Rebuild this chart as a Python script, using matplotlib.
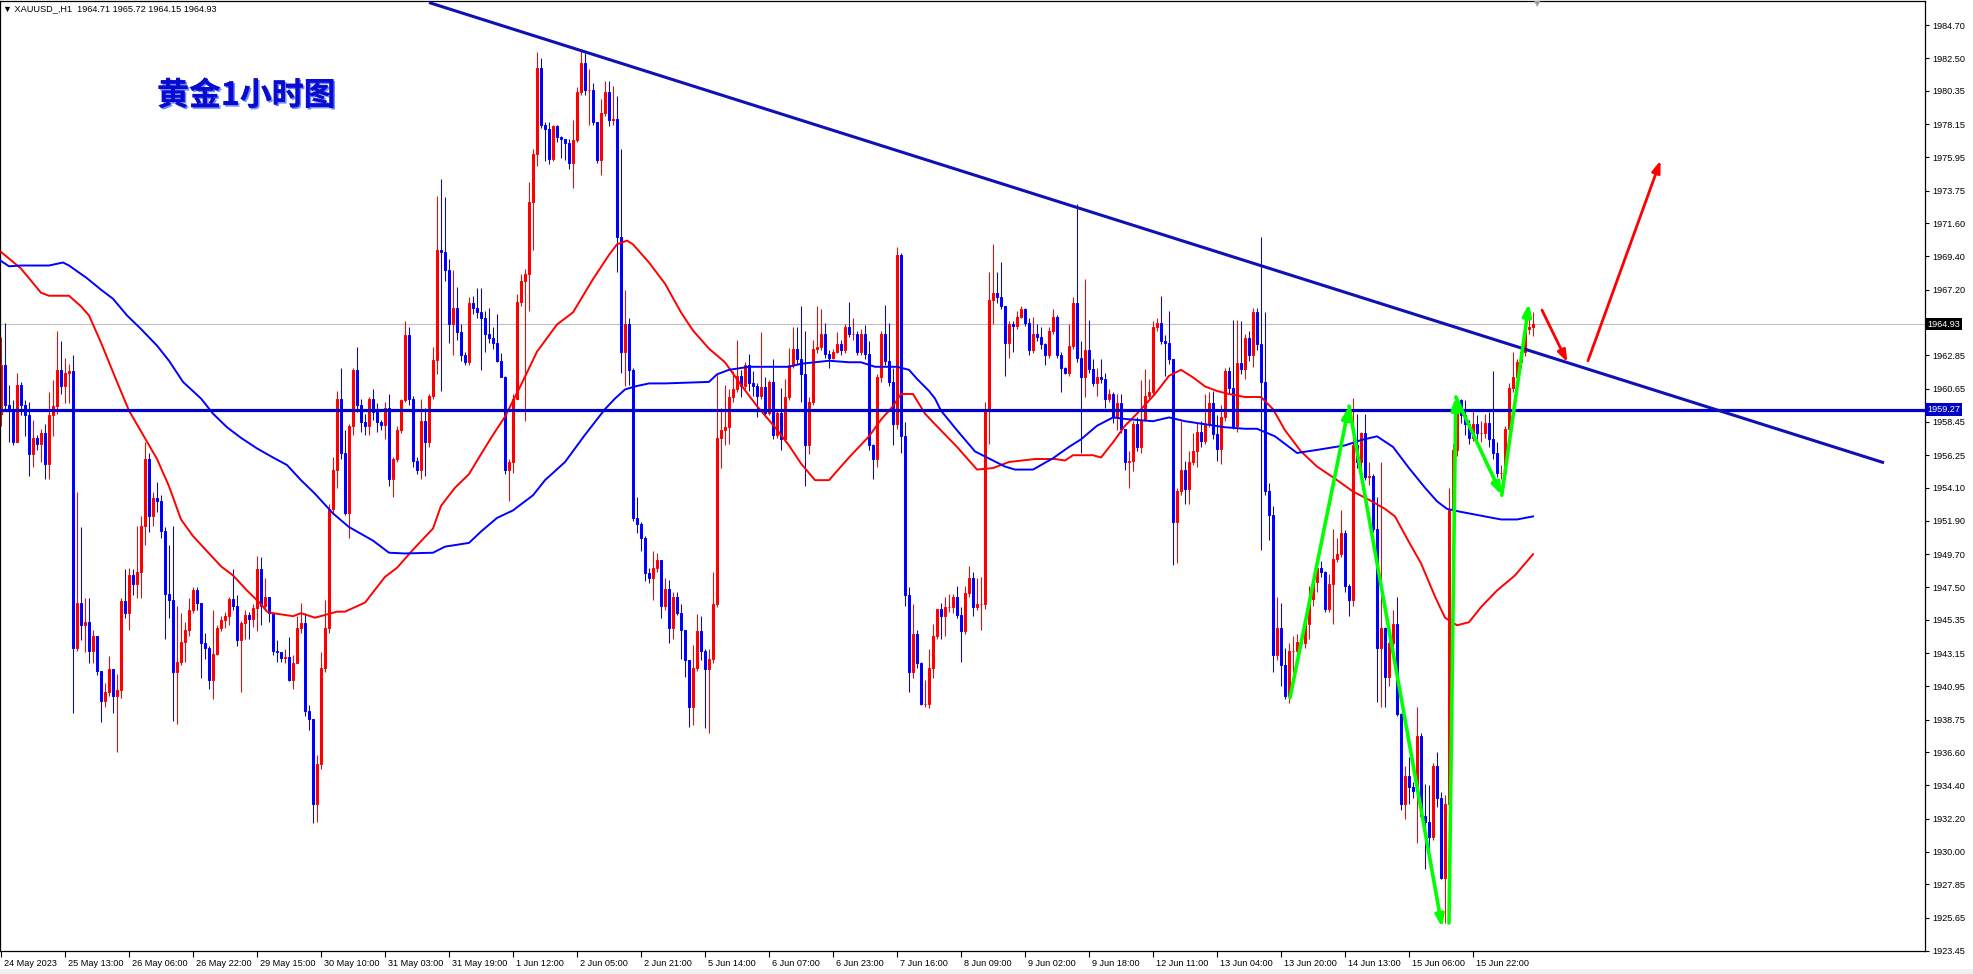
import numpy as np
import matplotlib
matplotlib.use("Agg")
import matplotlib.pyplot as plt
import matplotlib.transforms as mtransforms
import matplotlib.patheffects as pe
from matplotlib.patches import Rectangle

# ---- data (XAUUSD H1) ----
first_open = 1959.0
closes = [
    1962.2, 1959.6, 1959.2, 1957.1, 1960.9, 1959.6, 1958.9, 1956.3, 1957.4, 1957.0, 1957.7, 1955.7,
    1958.9, 1959.5, 1961.9, 1960.8, 1961.7, 1961.8, 1943.5, 1946.5, 1945.0, 1945.2, 1943.3, 1944.3,
    1942.0, 1940.0, 1940.6, 1942.1, 1940.3, 1940.7, 1946.6, 1945.8, 1948.3, 1947.7, 1948.5, 1951.6,
    1956.0, 1952.2, 1953.4, 1953.2, 1951.25, 1947.1, 1946.7, 1941.9, 1942.6, 1943.9, 1944.7, 1946.0,
    1947.3, 1946.5, 1943.8, 1943.5, 1941.4, 1943.1, 1944.85, 1945.35, 1945.6, 1946.75, 1946.3, 1944.0,
    1945.15, 1945.7, 1945.4, 1946.15, 1948.7, 1946.3, 1946.85, 1945.8, 1943.3, 1943.2, 1942.85, 1942.9,
    1941.4, 1942.5, 1944.85, 1945.15, 1939.3, 1938.8, 1933.2, 1935.8, 1942.2, 1944.8, 1952.7, 1955.3,
    1960.0, 1956.4, 1952.4, 1958.2, 1961.9, 1959.6, 1958.45, 1958.2, 1960.0, 1959.1, 1958.45, 1958.27,
    1959.4, 1954.65, 1956.0, 1957.9, 1959.9, 1964.2, 1960.0, 1955.9, 1955.3, 1958.5, 1957.1, 1960.2,
    1962.55, 1969.8, 1969.7, 1968.5, 1964.9, 1966.0, 1964.4, 1962.9, 1962.4, 1966.3, 1966.0, 1965.75,
    1965.35, 1964.3, 1964.0, 1963.7, 1962.5, 1961.4, 1955.3, 1955.8, 1960.0, 1966.4, 1967.8, 1968.25,
    1973.0, 1976.2, 1981.9, 1978.1, 1977.8, 1975.85, 1978.0, 1977.3, 1977.2, 1976.9, 1975.55, 1977.1,
    1980.3, 1982.2, 1980.4, 1980.4, 1978.3, 1975.8, 1978.9, 1980.3, 1978.4, 1978.5, 1970.7, 1963.1,
    1964.9, 1961.9, 1952.1, 1951.7, 1950.8, 1948.45, 1948.1, 1948.8, 1949.3, 1946.3, 1947.4, 1944.8,
    1946.9, 1945.8, 1944.7, 1942.7, 1939.6, 1942.2, 1944.6, 1943.3, 1942.1, 1942.8, 1946.4, 1957.4,
    1957.9, 1958.1, 1960.1, 1960.6, 1961.5, 1960.8, 1962.2, 1961.0, 1960.8, 1960.2, 1960.75, 1959.05,
    1961.1, 1957.6, 1959.05, 1957.3, 1960.1, 1962.2, 1963.3, 1962.6, 1961.65, 1956.9, 1959.8, 1963.3,
    1963.4, 1964.3, 1962.95, 1962.7, 1963.1, 1963.6, 1963.2, 1964.7, 1964.3, 1964.3, 1963.1, 1964.3,
    1962.95, 1956.9, 1956.0, 1961.4, 1964.3, 1962.5, 1961.1, 1958.3, 1969.5, 1957.5, 1947.0, 1941.9,
    1944.4, 1942.5, 1939.8, 1939.8, 1942.2, 1944.3, 1946.05, 1945.6, 1946.2, 1946.2, 1946.9, 1945.7,
    1944.6, 1947.15, 1948.1, 1946.2, 1946.4, 1946.4, 1959.2, 1966.55, 1967.0, 1966.7, 1966.1, 1963.65,
    1964.9, 1964.8, 1965.4, 1965.9, 1965.0, 1963.2, 1964.3, 1964.05, 1963.6, 1962.9, 1964.5, 1965.4,
    1962.9, 1962.0, 1961.7, 1963.5, 1966.3, 1962.7, 1961.4, 1963.2, 1961.95, 1961.0, 1961.4, 1961.3,
    1960.0, 1960.3, 1958.75, 1959.7, 1958.0, 1955.8, 1955.9, 1958.3, 1956.8, 1958.6, 1960.2, 1960.4,
    1964.7, 1965.0, 1963.8, 1963.7, 1962.6, 1951.85, 1953.9, 1955.3, 1954.0, 1955.8, 1956.5, 1957.8,
    1957.2, 1958.3, 1959.7, 1957.65, 1956.65, 1958.75, 1961.8, 1960.7, 1958.2, 1962.35, 1961.95, 1964.0,
    1962.9, 1965.7, 1963.6, 1961.1, 1953.85, 1952.3, 1943.0, 1944.8, 1942.4, 1940.3, 1943.3, 1943.3,
    1943.9, 1943.8, 1945.1, 1946.75, 1947.85, 1948.8, 1948.55, 1946.05, 1947.7, 1949.4, 1949.7, 1951.1,
    1947.6, 1946.7, 1956.9, 1955.8, 1957.7, 1954.8, 1954.9, 1951.35, 1943.5, 1944.8, 1941.6, 1943.8,
    1945.1, 1939.1, 1933.2, 1935.0, 1934.3, 1934.05, 1937.7, 1932.4, 1932.0, 1931.0, 1935.7, 1933.6,
    1928.3, 1933.2, 1952.6, 1956.6, 1959.9, 1958.9, 1958.3, 1957.4, 1958.3, 1957.7, 1957.7, 1958.4,
    1957.3, 1956.4, 1955.1, 1955.1, 1958.0, 1960.7, 1961.4, 1962.4, 1963.1, 1964.6, 1964.71, 1964.93,
]
highs = [
    1964.1, 1965.0, 1960.9, 1959.9, 1961.7, 1961.1, 1959.9, 1959.8, 1958.6, 1957.6, 1958.0, 1958.3,
    1960.4, 1961.2, 1964.5, 1963.8, 1962.7, 1962.3, 1962.9, 1953.8, 1951.5, 1946.8, 1946.8, 1944.7,
    1944.3, 1942.0, 1941.2, 1942.95, 1942.1, 1941.8, 1946.8, 1948.7, 1948.8, 1948.7, 1951.6, 1952.2,
    1957.1, 1956.4, 1953.8, 1954.5, 1953.6, 1951.5, 1950.3, 1951.6, 1946.3, 1945.8, 1945.2, 1946.8,
    1947.5, 1947.5, 1946.1, 1944.5, 1943.6, 1946.0, 1945.0, 1945.6, 1945.9, 1946.9, 1948.7, 1947.0,
    1945.3, 1946.0, 1945.9, 1946.4, 1949.6, 1949.5, 1948.1, 1946.9, 1945.9, 1944.0, 1943.2, 1943.4,
    1944.2, 1943.0, 1945.6, 1946.5, 1945.8, 1939.7, 1938.8, 1936.4, 1943.2, 1946.7, 1953.0, 1956.1,
    1960.5, 1962.0, 1957.9, 1958.3, 1962.0, 1963.4, 1960.0, 1959.0, 1960.1, 1960.6, 1959.7, 1958.6,
    1959.8, 1960.3, 1956.1, 1958.2, 1960.0, 1965.1, 1964.7, 1960.2, 1956.1, 1960.0, 1959.4, 1960.3,
    1963.4, 1973.4, 1974.5, 1973.3, 1969.2, 1968.5, 1967.4, 1964.9, 1963.1, 1966.7, 1966.8, 1967.3,
    1967.3, 1965.8, 1966.0, 1964.7, 1965.6, 1963.0, 1961.5, 1956.0, 1960.3, 1966.9, 1968.25, 1968.55,
    1974.3, 1976.5, 1982.9, 1982.5, 1978.3, 1978.3, 1978.1, 1978.1, 1977.4, 1977.2, 1977.2, 1978.4,
    1980.6, 1983.15, 1982.85, 1981.8, 1980.9, 1978.3, 1979.8, 1981.0, 1981.0, 1980.7, 1980.0, 1976.5,
    1967.2, 1965.3, 1962.0, 1953.5, 1951.8, 1950.9, 1948.8, 1949.9, 1949.75, 1949.3, 1948.1, 1948.0,
    1947.2, 1947.2, 1946.4, 1944.7, 1942.7, 1943.7, 1945.75, 1945.6, 1943.4, 1943.4, 1948.5, 1961.65,
    1959.4, 1960.9, 1960.6, 1961.8, 1963.85, 1961.9, 1962.4, 1962.95, 1961.8, 1961.0, 1964.4, 1961.4,
    1961.2, 1962.6, 1959.2, 1960.7, 1961.3, 1963.35, 1964.7, 1964.7, 1966.1, 1964.5, 1960.1, 1963.9,
    1966.15, 1965.9, 1965.0, 1963.2, 1963.3, 1964.4, 1963.9, 1964.9, 1966.4, 1965.3, 1964.5, 1964.6,
    1964.85, 1963.8, 1957.0, 1961.6, 1964.5, 1966.2, 1965.0, 1962.0, 1970.0, 1969.6, 1958.45, 1947.5,
    1946.4, 1944.7, 1942.6, 1941.4, 1943.4, 1945.1, 1946.1, 1946.5, 1946.85, 1947.1, 1947.1, 1947.6,
    1946.2, 1947.6, 1948.9, 1948.5, 1948.1, 1948.2, 1959.75, 1968.35, 1970.2, 1968.35, 1969.06, 1966.0,
    1965.1, 1965.1, 1965.8, 1966.1, 1966.0, 1965.3, 1965.4, 1964.9, 1964.7, 1963.7, 1964.7, 1965.9,
    1965.5, 1963.1, 1962.1, 1964.9, 1966.74, 1972.9, 1963.8, 1967.9, 1965.2, 1962.6, 1962.0, 1962.6,
    1961.7, 1960.6, 1960.4, 1960.3, 1960.3, 1958.0, 1956.5, 1958.5, 1958.8, 1961.2, 1961.95, 1961.3,
    1965.15, 1965.3, 1966.8, 1964.2, 1965.8, 1962.6, 1954.1, 1958.5, 1955.9, 1956.5, 1957.75, 1958.4,
    1958.5, 1960.3, 1960.4, 1960.5, 1958.9, 1959.6, 1962.0, 1962.1, 1965.2, 1965.2, 1965.15, 1964.3,
    1964.45, 1966.0, 1966.0, 1970.7, 1965.7, 1954.4, 1952.9, 1946.9, 1946.5, 1943.5, 1943.8, 1944.3,
    1944.4, 1944.4, 1945.5, 1947.6, 1948.2, 1949.1, 1949.25, 1948.6, 1948.4, 1951.35, 1950.8, 1952.6,
    1951.3, 1947.7, 1960.05, 1959.0, 1957.8, 1959.0, 1955.8, 1955.0, 1953.5, 1955.8, 1944.9, 1944.2,
    1946.0, 1946.9, 1939.2, 1935.7, 1936.3, 1934.6, 1939.6, 1937.9, 1934.5, 1934.4, 1935.9, 1936.6,
    1934.0, 1933.8, 1954.1, 1957.0, 1960.1, 1960.0, 1959.9, 1958.6, 1959.2, 1958.9, 1958.5, 1959.0,
    1959.1, 1961.8, 1957.1, 1955.6, 1958.2, 1961.0, 1963.1, 1962.6, 1963.3, 1964.8, 1965.6, 1965.72,
]
lows = [
    1958.2, 1959.2, 1957.1, 1956.9, 1957.2, 1958.9, 1957.5, 1954.9, 1955.5, 1956.6, 1955.8, 1954.7,
    1954.7, 1957.5, 1959.0, 1960.3, 1959.7, 1959.7, 1939.2, 1943.3, 1944.0, 1943.2, 1942.5, 1942.5,
    1941.7, 1938.6, 1939.6, 1940.3, 1939.2, 1936.6, 1940.2, 1945.5, 1944.7, 1947.0, 1946.8, 1946.8,
    1950.3, 1951.2, 1951.6, 1952.5, 1950.8, 1944.1, 1945.5, 1938.65, 1938.5, 1942.4, 1942.6, 1944.3,
    1945.8, 1946.0, 1941.5, 1942.8, 1940.8, 1940.1, 1943.0, 1944.6, 1944.8, 1945.0, 1946.0, 1943.6,
    1940.6, 1944.1, 1944.1, 1944.9, 1944.6, 1945.0, 1946.0, 1945.2, 1943.0, 1942.6, 1942.6, 1942.5,
    1941.3, 1940.8, 1942.5, 1944.5, 1939.0, 1938.1, 1931.9, 1932.0, 1935.5, 1941.9, 1944.5, 1952.4,
    1954.1, 1956.0, 1952.3, 1950.8, 1957.6, 1959.1, 1957.8, 1957.6, 1957.6, 1958.6, 1957.8, 1957.9,
    1957.3, 1954.2, 1953.5, 1955.8, 1957.7, 1959.8, 1959.6, 1955.5, 1955.0, 1954.7, 1954.9, 1956.8,
    1960.0, 1961.6, 1960.5, 1967.8, 1963.7, 1962.9, 1963.9, 1962.5, 1962.2, 1962.2, 1965.6, 1965.3,
    1961.9, 1963.1, 1963.7, 1963.3, 1962.4, 1961.4, 1955.0, 1953.2, 1955.1, 1960.0, 1966.1, 1958.5,
    1965.8, 1969.8, 1975.4, 1977.9, 1975.7, 1975.5, 1975.7, 1977.0, 1975.9, 1975.8, 1975.2, 1973.9,
    1977.0, 1980.1, 1980.1, 1978.1, 1978.1, 1975.55, 1974.8, 1978.7, 1978.0, 1978.1, 1968.4, 1961.7,
    1960.8, 1960.9, 1951.9, 1951.1, 1949.9, 1947.9, 1947.8, 1946.7, 1948.5, 1945.5, 1946.0, 1943.8,
    1944.1, 1945.7, 1942.8, 1941.6, 1938.3, 1938.4, 1942.0, 1942.7, 1938.2, 1937.9, 1942.5, 1946.2,
    1955.4, 1956.9, 1957.0, 1959.8, 1960.4, 1960.1, 1960.6, 1960.5, 1960.2, 1958.8, 1960.0, 1958.8,
    1958.9, 1957.3, 1957.4, 1956.6, 1957.1, 1959.9, 1962.0, 1962.3, 1959.8, 1954.2, 1956.3, 1959.6,
    1963.0, 1963.2, 1962.7, 1962.0, 1962.6, 1963.0, 1962.9, 1963.0, 1964.1, 1963.9, 1962.9, 1962.9,
    1962.6, 1956.6, 1954.7, 1955.5, 1961.1, 1962.2, 1960.8, 1956.9, 1958.0, 1956.4, 1946.3, 1940.6,
    1941.5, 1942.2, 1939.7, 1939.6, 1939.5, 1941.5, 1944.1, 1944.1, 1944.3, 1945.9, 1945.8, 1945.5,
    1942.6, 1944.4, 1946.9, 1945.6, 1946.0, 1944.7, 1946.1, 1957.0, 1964.9, 1966.3, 1965.9, 1961.5,
    1962.7, 1963.1, 1964.6, 1965.3, 1964.8, 1962.9, 1963.0, 1963.8, 1963.3, 1962.2, 1962.7, 1964.3,
    1962.7, 1960.4, 1961.6, 1961.5, 1963.3, 1962.4, 1956.4, 1960.1, 1961.7, 1960.8, 1960.2, 1961.0,
    1959.4, 1959.8, 1958.4, 1957.9, 1957.7, 1955.3, 1954.1, 1955.2, 1956.5, 1956.4, 1958.5, 1960.0,
    1960.2, 1964.5, 1963.6, 1961.5, 1962.3, 1949.0, 1949.1, 1953.6, 1953.0, 1953.0, 1955.6, 1955.5,
    1956.8, 1957.0, 1958.1, 1957.3, 1955.9, 1955.7, 1958.5, 1960.3, 1958.0, 1957.8, 1961.6, 1961.3,
    1962.5, 1962.1, 1963.2, 1950.0, 1953.6, 1950.65, 1941.9, 1942.7, 1941.0, 1940.1, 1939.85, 1941.9,
    1942.6, 1943.5, 1943.5, 1944.1, 1946.3, 1947.2, 1948.2, 1945.9, 1945.9, 1945.1, 1949.2, 1949.5,
    1947.2, 1945.6, 1946.3, 1955.4, 1954.8, 1954.6, 1954.3, 1951.2, 1939.9, 1939.6, 1939.6, 1941.0,
    1943.6, 1939.0, 1932.8, 1932.2, 1933.2, 1933.6, 1930.6, 1932.3, 1928.9, 1929.9, 1930.8, 1933.0,
    1928.2, 1925.3, 1932.9, 1952.0, 1956.2, 1958.4, 1957.6, 1957.0, 1957.2, 1957.3, 1957.1, 1957.4,
    1956.8, 1956.0, 1954.8, 1954.7, 1954.7, 1957.6, 1960.4, 1961.0, 1962.0, 1962.8, 1964.3, 1964.15,
]

# moving averages (bar index, price)
ma_red_bars = [0, 5, 10, 12, 17, 20, 22, 25, 29, 32, 35.5, 39, 42, 45, 48, 51.5, 55, 58, 61.5, 65,
               66.5, 68, 73, 75, 78.5, 84, 86, 91, 96, 99, 103, 108, 110, 113.5, 117, 119.5, 123,
               126, 130, 134, 139, 143, 148, 152, 154, 156.5, 158, 162, 166, 170, 173, 177, 181,
               185, 189, 193.5, 197, 200, 203.5, 207, 212, 217, 220, 223, 225, 228, 231, 233.5,
               239, 244, 248, 252, 258.5, 263.5, 266, 268, 273, 275, 278, 281, 284, 288.5, 292,
               295, 298, 301, 304, 307, 311, 315, 318, 321, 325, 329, 333.5, 338, 342, 346,
               348.5, 352, 355, 358.5, 361, 364, 367, 370, 374, 378.5, 383]
ma_red = [1969.7, 1968.6, 1967.0, 1966.8, 1966.8, 1966.1, 1965.5, 1963.7, 1961.1, 1959.2, 1957.6,
          1956.0, 1954.2, 1952.0, 1950.9, 1949.9, 1948.9, 1948.3, 1947.3, 1946.4, 1945.9, 1945.8,
          1945.6, 1945.8, 1945.5, 1945.9, 1945.9, 1946.5, 1948.2, 1948.8, 1950.0, 1951.4, 1952.9,
          1954.1, 1955.0, 1956.1, 1957.6, 1958.8, 1960.9, 1963.1, 1964.9, 1965.7, 1967.9, 1969.5,
          1970.2, 1970.45, 1970.2, 1969.0, 1967.6, 1965.7, 1964.5, 1963.3, 1962.4, 1960.9, 1959.5,
          1958.1, 1956.9, 1955.7, 1954.6, 1954.6, 1956.1, 1957.5, 1958.6, 1959.5, 1960.3, 1960.3,
          1959.0, 1958.3, 1956.8, 1955.3, 1955.4, 1955.8, 1956.0, 1956.0, 1955.9, 1956.25, 1956.25,
          1956.1, 1957.1, 1958.2, 1959.0, 1960.3, 1961.5, 1961.9, 1961.4, 1960.8, 1960.5, 1960.3,
          1960.1, 1960.1, 1959.3, 1957.9, 1956.5, 1955.5, 1954.7, 1953.85, 1953.3, 1952.7, 1952.2,
          1950.5, 1949.1, 1946.9, 1945.5, 1945.0, 1945.2, 1946.2, 1947.3, 1948.3, 1949.7]
ma_blue_bars = [0, 2, 5, 12, 15.5, 17, 21.5, 25, 28, 31.5, 35, 39, 42, 45.5, 50, 53, 56.5, 60, 64,
                68, 71.5, 75, 78.5, 83, 87, 93, 97, 101, 108, 111, 117, 120, 124, 128, 133, 136,
                141, 146, 151, 153.5, 156, 158.5, 162, 166, 177, 179, 182, 187, 197, 200, 203.5,
                207, 212, 215, 218.5, 224, 227, 229, 232, 233.5, 235, 239, 243.5, 248, 251, 253.5,
                258, 263, 267, 270, 274, 278, 281, 288, 292, 296, 301, 306, 311, 314, 318.5, 324,
                329, 336, 340, 344, 348, 352, 356, 359, 361.5, 365, 371, 375, 379, 383]
ma_blue = [1969.1, 1968.75, 1968.8, 1968.8, 1969.0, 1968.8, 1967.96, 1967.2, 1966.6, 1965.5, 1964.6,
           1963.5, 1962.5, 1961.1, 1960.0, 1959.0, 1958.1, 1957.4, 1956.7, 1956.1, 1955.6, 1954.6,
           1953.7, 1952.4, 1951.5, 1950.6, 1949.8, 1949.75, 1949.8, 1950.2, 1950.45, 1951.2, 1952.1,
           1952.6, 1953.6, 1954.6, 1955.8, 1957.6, 1959.3, 1960.0, 1960.6, 1960.8, 1961.0, 1961.0,
           1961.1, 1961.6, 1961.9, 1962.1, 1962.1, 1962.3, 1962.4, 1962.5, 1962.4, 1962.4, 1962.1,
           1962.1, 1961.9, 1961.3, 1960.5, 1960.0, 1959.2, 1957.9, 1956.5, 1955.9, 1955.5, 1955.3,
           1955.3, 1956.05, 1956.8, 1957.3, 1958.2, 1958.75, 1958.65, 1958.5, 1958.75, 1958.5,
           1958.3, 1958.1, 1958.0, 1958.0, 1957.5, 1956.4, 1956.6, 1956.9, 1957.25, 1957.5, 1956.8,
           1955.4, 1954.1, 1953.2, 1952.7, 1952.5, 1952.2, 1952.0, 1952.0, 1952.2]

# drawn objects
level_price = 1959.27
last_price = 1964.93
trend_bars = [107, 470.75]
trend_prices = [1986.2, 1955.75]
green_arrows = [((322.25, 1940.2), (337.0, 1959.5)),
                ((337.0, 1959.5), (360.3, 1925.0)),
                ((362.0, 1925.3), (363.7, 1960.1)),
                ((363.7, 1960.1), (375.2, 1953.6)),
                ((375.2, 1953.6), (382.0, 1966.3))]
red_arrows = [((385.25, 1965.85), (391.6, 1962.4)),
              ((396.75, 1962.5), (414.9, 1975.75))]

time_labels = ["24 May 2023", "25 May 13:00", "26 May 06:00", "26 May 22:00", "29 May 15:00",
               "30 May 10:00", "31 May 03:00", "31 May 19:00", "1 Jun 12:00", "2 Jun 05:00",
               "2 Jun 21:00", "5 Jun 14:00", "6 Jun 07:00", "6 Jun 23:00", "7 Jun 16:00",
               "8 Jun 09:00", "9 Jun 02:00", "9 Jun 18:00", "12 Jun 11:00", "13 Jun 04:00",
               "13 Jun 20:00", "14 Jun 13:00", "15 Jun 06:00", "15 Jun 22:00"]
bars_per_label = 16
price_labels = ["1984.70", "1982.50", "1980.35", "1978.15", "1975.95", "1973.75", "1971.60",
                "1969.40", "1967.20", "1962.85", "1960.65", "1958.45", "1956.25", "1954.10",
                "1951.90", "1949.70", "1947.50", "1945.35", "1943.15", "1940.95", "1938.75",
                "1936.60", "1934.40", "1932.20", "1930.00", "1927.85", "1925.65", "1923.45"]

# ---- figure ----
W, H = 1973, 974
fig = plt.figure(figsize=(W / 100, H / 100), dpi=100)
fig.patch.set_facecolor("white")
fig.patches.append(Rectangle((0, 0), 1, 5 / H, transform=fig.transFigure,
                             facecolor="#f0f0f0", edgecolor="none"))
ax = fig.add_axes([0, 23 / H, 1925 / W, 950 / H])
ax.set_xlim(-0.25, 481)
ax.set_ylim(1923.45, 1986.3)

UP, DOWN = "#ff0000", "#0000ff"
c = np.array(closes)
o = np.array([first_open] + closes[:-1])
hi = np.maximum(np.array(highs), np.maximum(o, c))
lo = np.minimum(np.array(lows), np.minimum(o, c))
x = np.arange(len(c))
cols = np.where(c >= o, UP, DOWN)
ax.vlines(x, lo, hi, colors=cols, linewidth=0.75, zorder=2)
ax.bar(x, np.abs(c - o), bottom=np.minimum(o, c), width=0.5, color=cols,
       edgecolor=cols, linewidth=0.75, zorder=2)

ax.plot(ma_red_bars, ma_red, color=UP, lw=1.4, zorder=3)
ax.plot(ma_blue_bars, ma_blue, color=DOWN, lw=1.4, zorder=3)

ax.axhline(last_price, color="#c0c0c0", lw=0.8, zorder=1)
ax.axhline(level_price, color="#0000c8", lw=2.3, zorder=4)
ax.plot(trend_bars, trend_prices, color="#1010b4", lw=2.2, zorder=4, solid_capstyle="butt")

for start, end in green_arrows:
    ax.annotate("", xy=end, xytext=start, zorder=5,
                arrowprops=dict(arrowstyle="-|>,head_length=0.7,head_width=0.25",
                                color="#00ff00", lw=2.6, shrinkA=0, shrinkB=0))
for start, end in red_arrows:
    ax.annotate("", xy=end, xytext=start, zorder=5,
                arrowprops=dict(arrowstyle="-|>,head_length=0.7,head_width=0.25",
                                color="#ff0000", lw=2.0, shrinkA=0, shrinkB=0))

# axes styling
for s in ax.spines.values():
    s.set_linewidth(0.9)
    s.set_color("black")
fnt = {"family": ["Liberation Sans", "DejaVu Sans"], "size": 6.6}

ax.yaxis.tick_right()
ax.set_yticks([float(v) for v in price_labels])
ax.set_yticklabels(price_labels, **fnt)
ax.tick_params(axis="y", direction="out", length=3, width=0.8, pad=2)

ax.set_xticks([k * bars_per_label for k in range(len(time_labels))])
ax.set_xticklabels(time_labels, **fnt)
ax.tick_params(axis="x", direction="out", length=4, width=0.8, pad=2)
shift = mtransforms.ScaledTranslation(3 / 100, 0, fig.dpi_scale_trans)
for lbl in ax.get_xticklabels():
    lbl.set_horizontalalignment("left")
    lbl.set_transform(lbl.get_transform() + shift)

# price badges on the right axis
badge_tr = mtransforms.blended_transform_factory(ax.transAxes, ax.transData)
badge_tr = badge_tr + mtransforms.ScaledTranslation(2 / 100, 0, fig.dpi_scale_trans)
for price, face in [(last_price, "black"), (level_price, "#0000c8")]:
    ax.text(1.0, price, f"{price:.2f}", transform=badge_tr, ha="left", va="center",
            color="white", zorder=6, clip_on=False,
            bbox=dict(boxstyle="square,pad=0.2", fc=face, ec="none"), **fnt)

# header and title
fig.text(3 / W, 1 - 9 / H, "\u25bc XAUUSD_,H1  1964.71 1965.72 1964.15 1964.93",
         ha="left", va="center", color="black", **fnt)
fig.text(1537 / W, 1 - 4 / H, "\u25bc", ha="center", va="center", color="#a0a0a0",
         fontsize=6, family="DejaVu Sans")
ax.text(157 / 1925, 0.9, "黄金1小时图", transform=ax.transAxes, ha="left", va="center",
        fontsize=23, fontweight="bold", color="#0a0ad0",
        family=["Noto Sans CJK SC", "DejaVu Sans"], zorder=6,
        path_effects=[pe.withSimplePatchShadow(offset=(1.2, -1.2), shadow_rgbFace="#6a8cff",
                                               alpha=1.0), pe.Normal()])

fig.savefig("out.png", dpi=100)
